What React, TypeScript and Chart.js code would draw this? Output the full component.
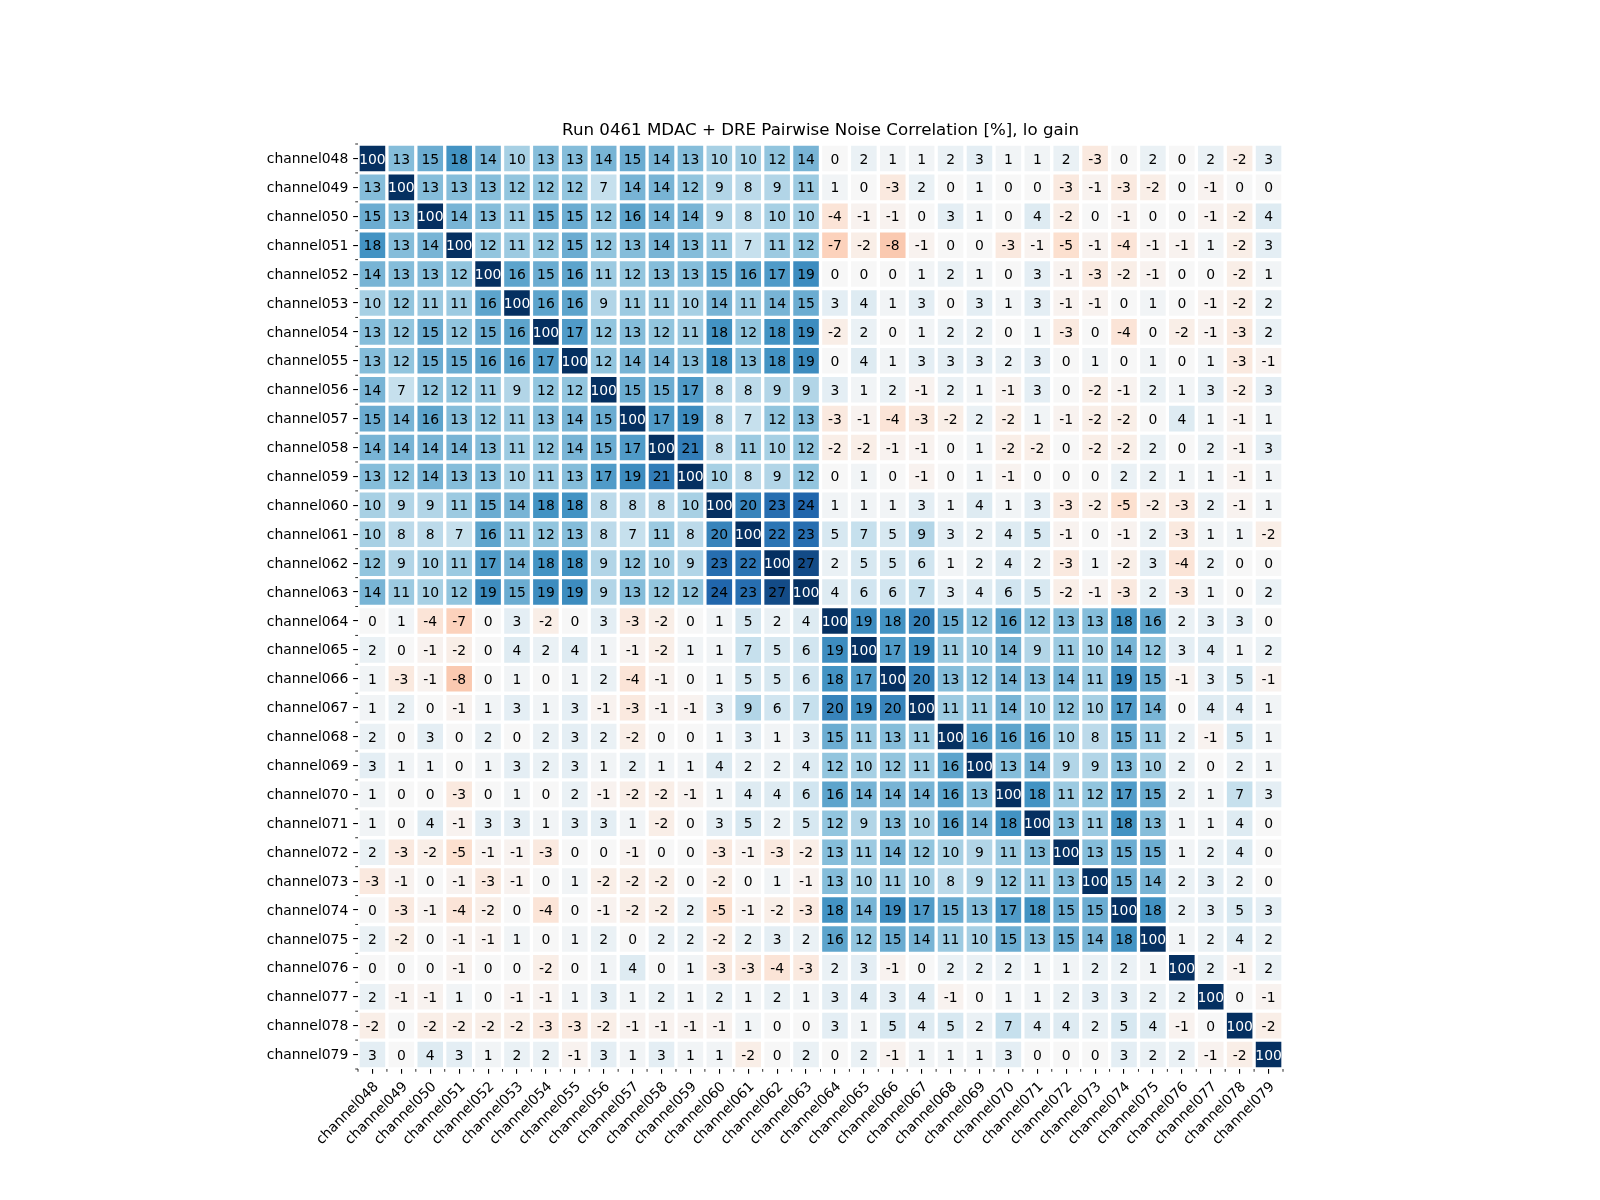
import React, { useEffect, useRef } from 'react';
import { Chart, registerables } from 'chart.js';

Chart.register(...registerables);

const chartTitle = 'Run 0461 MDAC + DRE Pairwise Noise Correlation [%], lo gain';

const channels = [
  'channel048', 'channel049', 'channel050', 'channel051', 'channel052', 'channel053', 'channel054', 'channel055',
  'channel056', 'channel057', 'channel058', 'channel059', 'channel060', 'channel061', 'channel062', 'channel063',
  'channel064', 'channel065', 'channel066', 'channel067', 'channel068', 'channel069', 'channel070', 'channel071',
  'channel072', 'channel073', 'channel074', 'channel075', 'channel076', 'channel077', 'channel078', 'channel079',
];

const r048 = [100, 13, 15, 18, 14, 10, 13, 13, 14, 15, 14, 13, 10, 10, 12, 14, 0, 2, 1, 1, 2, 3, 1, 1, 2, -3, 0, 2, 0, 2, -2, 3];
const r049 = [13, 100, 13, 13, 13, 12, 12, 12, 7, 14, 14, 12, 9, 8, 9, 11, 1, 0, -3, 2, 0, 1, 0, 0, -3, -1, -3, -2, 0, -1, 0, 0];
const r050 = [15, 13, 100, 14, 13, 11, 15, 15, 12, 16, 14, 14, 9, 8, 10, 10, -4, -1, -1, 0, 3, 1, 0, 4, -2, 0, -1, 0, 0, -1, -2, 4];
const r051 = [18, 13, 14, 100, 12, 11, 12, 15, 12, 13, 14, 13, 11, 7, 11, 12, -7, -2, -8, -1, 0, 0, -3, -1, -5, -1, -4, -1, -1, 1, -2, 3];
const r052 = [14, 13, 13, 12, 100, 16, 15, 16, 11, 12, 13, 13, 15, 16, 17, 19, 0, 0, 0, 1, 2, 1, 0, 3, -1, -3, -2, -1, 0, 0, -2, 1];
const r053 = [10, 12, 11, 11, 16, 100, 16, 16, 9, 11, 11, 10, 14, 11, 14, 15, 3, 4, 1, 3, 0, 3, 1, 3, -1, -1, 0, 1, 0, -1, -2, 2];
const r054 = [13, 12, 15, 12, 15, 16, 100, 17, 12, 13, 12, 11, 18, 12, 18, 19, -2, 2, 0, 1, 2, 2, 0, 1, -3, 0, -4, 0, -2, -1, -3, 2];
const r055 = [13, 12, 15, 15, 16, 16, 17, 100, 12, 14, 14, 13, 18, 13, 18, 19, 0, 4, 1, 3, 3, 3, 2, 3, 0, 1, 0, 1, 0, 1, -3, -1];
const r056 = [14, 7, 12, 12, 11, 9, 12, 12, 100, 15, 15, 17, 8, 8, 9, 9, 3, 1, 2, -1, 2, 1, -1, 3, 0, -2, -1, 2, 1, 3, -2, 3];
const r057 = [15, 14, 16, 13, 12, 11, 13, 14, 15, 100, 17, 19, 8, 7, 12, 13, -3, -1, -4, -3, -2, 2, -2, 1, -1, -2, -2, 0, 4, 1, -1, 1];
const r058 = [14, 14, 14, 14, 13, 11, 12, 14, 15, 17, 100, 21, 8, 11, 10, 12, -2, -2, -1, -1, 0, 1, -2, -2, 0, -2, -2, 2, 0, 2, -1, 3];
const r059 = [13, 12, 14, 13, 13, 10, 11, 13, 17, 19, 21, 100, 10, 8, 9, 12, 0, 1, 0, -1, 0, 1, -1, 0, 0, 0, 2, 2, 1, 1, -1, 1];
const r060 = [10, 9, 9, 11, 15, 14, 18, 18, 8, 8, 8, 10, 100, 20, 23, 24, 1, 1, 1, 3, 1, 4, 1, 3, -3, -2, -5, -2, -3, 2, -1, 1];
const r061 = [10, 8, 8, 7, 16, 11, 12, 13, 8, 7, 11, 8, 20, 100, 22, 23, 5, 7, 5, 9, 3, 2, 4, 5, -1, 0, -1, 2, -3, 1, 1, -2];
const r062 = [12, 9, 10, 11, 17, 14, 18, 18, 9, 12, 10, 9, 23, 22, 100, 27, 2, 5, 5, 6, 1, 2, 4, 2, -3, 1, -2, 3, -4, 2, 0, 0];
const r063 = [14, 11, 10, 12, 19, 15, 19, 19, 9, 13, 12, 12, 24, 23, 27, 100, 4, 6, 6, 7, 3, 4, 6, 5, -2, -1, -3, 2, -3, 1, 0, 2];
const r064 = [0, 1, -4, -7, 0, 3, -2, 0, 3, -3, -2, 0, 1, 5, 2, 4, 100, 19, 18, 20, 15, 12, 16, 12, 13, 13, 18, 16, 2, 3, 3, 0];
const r065 = [2, 0, -1, -2, 0, 4, 2, 4, 1, -1, -2, 1, 1, 7, 5, 6, 19, 100, 17, 19, 11, 10, 14, 9, 11, 10, 14, 12, 3, 4, 1, 2];
const r066 = [1, -3, -1, -8, 0, 1, 0, 1, 2, -4, -1, 0, 1, 5, 5, 6, 18, 17, 100, 20, 13, 12, 14, 13, 14, 11, 19, 15, -1, 3, 5, -1];
const r067 = [1, 2, 0, -1, 1, 3, 1, 3, -1, -3, -1, -1, 3, 9, 6, 7, 20, 19, 20, 100, 11, 11, 14, 10, 12, 10, 17, 14, 0, 4, 4, 1];
const r068 = [2, 0, 3, 0, 2, 0, 2, 3, 2, -2, 0, 0, 1, 3, 1, 3, 15, 11, 13, 11, 100, 16, 16, 16, 10, 8, 15, 11, 2, -1, 5, 1];
const r069 = [3, 1, 1, 0, 1, 3, 2, 3, 1, 2, 1, 1, 4, 2, 2, 4, 12, 10, 12, 11, 16, 100, 13, 14, 9, 9, 13, 10, 2, 0, 2, 1];
const r070 = [1, 0, 0, -3, 0, 1, 0, 2, -1, -2, -2, -1, 1, 4, 4, 6, 16, 14, 14, 14, 16, 13, 100, 18, 11, 12, 17, 15, 2, 1, 7, 3];
const r071 = [1, 0, 4, -1, 3, 3, 1, 3, 3, 1, -2, 0, 3, 5, 2, 5, 12, 9, 13, 10, 16, 14, 18, 100, 13, 11, 18, 13, 1, 1, 4, 0];
const r072 = [2, -3, -2, -5, -1, -1, -3, 0, 0, -1, 0, 0, -3, -1, -3, -2, 13, 11, 14, 12, 10, 9, 11, 13, 100, 13, 15, 15, 1, 2, 4, 0];
const r073 = [-3, -1, 0, -1, -3, -1, 0, 1, -2, -2, -2, 0, -2, 0, 1, -1, 13, 10, 11, 10, 8, 9, 12, 11, 13, 100, 15, 14, 2, 3, 2, 0];
const r074 = [0, -3, -1, -4, -2, 0, -4, 0, -1, -2, -2, 2, -5, -1, -2, -3, 18, 14, 19, 17, 15, 13, 17, 18, 15, 15, 100, 18, 2, 3, 5, 3];
const r075 = [2, -2, 0, -1, -1, 1, 0, 1, 2, 0, 2, 2, -2, 2, 3, 2, 16, 12, 15, 14, 11, 10, 15, 13, 15, 14, 18, 100, 1, 2, 4, 2];
const r076 = [0, 0, 0, -1, 0, 0, -2, 0, 1, 4, 0, 1, -3, -3, -4, -3, 2, 3, -1, 0, 2, 2, 2, 1, 1, 2, 2, 1, 100, 2, -1, 2];
const r077 = [2, -1, -1, 1, 0, -1, -1, 1, 3, 1, 2, 1, 2, 1, 2, 1, 3, 4, 3, 4, -1, 0, 1, 1, 2, 3, 3, 2, 2, 100, 0, -1];
const r078 = [-2, 0, -2, -2, -2, -2, -3, -3, -2, -1, -1, -1, -1, 1, 0, 0, 3, 1, 5, 4, 5, 2, 7, 4, 4, 2, 5, 4, -1, 0, 100, -2];
const r079 = [3, 0, 4, 3, 1, 2, 2, -1, 3, 1, 3, 1, 1, -2, 0, 2, 0, 2, -1, 1, 1, 1, 3, 0, 0, 0, 3, 2, 2, -1, -2, 100];

const matrix = [
  r048, r049, r050, r051, r052, r053, r054, r055, r056, r057, r058, r059, r060, r061, r062, r063,
  r064, r065, r066, r067, r068, r069, r070, r071, r072, r073, r074, r075, r076, r077, r078, r079,
];

const V_MIN = -30;
const V_MAX = 30;

// matplotlib RdBu stops (red -> white -> blue)
const RDBU: [number, number, number][] = [
  [103, 0, 31], [178, 24, 43], [214, 96, 77], [244, 165, 130], [253, 219, 199], [247, 247, 247],
  [209, 229, 240], [146, 197, 222], [67, 147, 195], [33, 102, 172], [5, 48, 97],
];

function colorFor(v: number): string {
  let t = (v - V_MIN) / (V_MAX - V_MIN);
  t = Math.max(0, Math.min(1, t));
  const pos = t * (RDBU.length - 1);
  const i = Math.min(RDBU.length - 2, Math.floor(pos));
  const f = pos - i;
  const a = RDBU[i];
  const b = RDBU[i + 1];
  const c = a.map((x, k) => Math.round(x + (b[k] - x) * f));
  return `rgb(${c[0]},${c[1]},${c[2]})`;
}

const FONT = 'DejaVu Sans';
const TICK_PX = 13.9;
const MAJOR_LEN = 4.86;
const MINOR_LEN = 2.78;

const annotatePlugin = {
  id: 'annotateCells',
  afterDatasetsDraw(chart: any) {
    const ctx = chart.ctx;
    ctx.save();
    ctx.font = `${TICK_PX}px "${FONT}"`;
    ctx.textAlign = 'center';
    ctx.textBaseline = 'alphabetic';
    chart.data.datasets.forEach((_ds: any, r: number) => {
      const meta = chart.getDatasetMeta(r);
      meta.data.forEach((el: any, c: number) => {
        const v = matrix[r][c];
        const p = el.getProps(['x', 'y', 'base'], true);
        const cy = (p.y + p.base) / 2;
        ctx.fillStyle = v >= 50 ? '#ffffff' : '#000000';
        ctx.fillText(String(v), p.x, cy + TICK_PX * 0.3645);
      });
    });
    ctx.restore();
  },
};

const minorTicksPlugin = {
  id: 'minorTicks',
  afterDraw(chart: any) {
    const ctx = chart.ctx;
    const xs = chart.scales.x;
    const ys = chart.scales.y;
    ctx.save();
    ctx.strokeStyle = '#000';
    ctx.lineWidth = 0.83;
    ctx.beginPath();
    for (let i = 0; i <= channels.length; i++) {
      const px = xs.getPixelForValue(i - 0.5);
      ctx.moveTo(px, ys.bottom);
      ctx.lineTo(px, ys.bottom + MINOR_LEN);
      const py = ys.getPixelForValue(i);
      ctx.moveTo(xs.left - MINOR_LEN, py);
      ctx.lineTo(xs.left, py);
    }
    ctx.stroke();
    ctx.restore();
  },
};

export default function App() {
  const canvasRef = useRef<HTMLCanvasElement | null>(null);

  useEffect(() => {
    if (!canvasRef.current) return;
    Chart.defaults.font.family = FONT;
    const chart = new Chart(canvasRef.current, {
      type: 'bar',
      data: {
        labels: channels,
        datasets: matrix.map((row, r) => ({
          label: channels[r],
          data: row.map(() => [r, r + 1]),
          backgroundColor: row.map((v) => colorFor(v)),
          borderColor: '#ffffff',
          borderWidth: 2,
          borderSkipped: false,
          barPercentage: 1,
          categoryPercentage: 1,
          grouped: false,
        })),
      } as any,
      options: {
        animation: false,
        responsive: false,
        events: [],
        layout: { padding: { left: 0, right: 317, top: 0, bottom: 0 } },
        plugins: {
          legend: { display: false },
          tooltip: { enabled: false },
          title: {
            display: true,
            text: chartTitle,
            fullSize: false,
            color: '#000',
            font: { family: FONT, size: 16.67, weight: 'normal' },
            padding: { top: 121, bottom: 3 },
          },
        },
        scales: {
          x: {
            type: 'category',
            offset: true,
            border: { display: false },
            grid: {
              offset: false,
              drawOnChartArea: false,
              drawTicks: true,
              tickLength: MAJOR_LEN,
              color: '#000',
              lineWidth: 1.1,
            },
            ticks: {
              autoSkip: false,
              minRotation: 45,
              maxRotation: 45,
              padding: 5,
              labelOffset: 4,
              color: '#000',
              font: { family: FONT, size: TICK_PX },
            },
            afterFit: (scale: any) => {
              scale.height = 131;
            },
          },
          y: {
            type: 'linear',
            min: 0,
            max: channels.length,
            reverse: true,
            border: { display: false },
            grid: {
              drawOnChartArea: false,
              drawTicks: true,
              tickLength: MAJOR_LEN,
              color: '#000',
              lineWidth: 1.1,
            },
            afterBuildTicks: (scale: any) => {
              scale.ticks = channels.map((_c, i) => ({ value: i + 0.5 }));
            },
            ticks: {
              autoSkip: false,
              padding: 4.86,
              labelOffset: 1,
              color: '#000',
              font: { family: FONT, size: TICK_PX },
              callback: (_v: any, i: number) => channels[i],
            },
            afterFit: (scale: any) => {
              scale.width = 358;
            },
          },
        },
      } as any,
      plugins: [annotatePlugin, minorTicksPlugin],
    });
    return () => chart.destroy();
  }, []);

  return (
    <div style={{ position: 'fixed', left: 0, top: 0, width: 1600, height: 1200, background: '#fff' }}>
      <canvas ref={canvasRef} width={1600} height={1200} style={{ width: 1600, height: 1200 }} />
    </div>
  );
}
